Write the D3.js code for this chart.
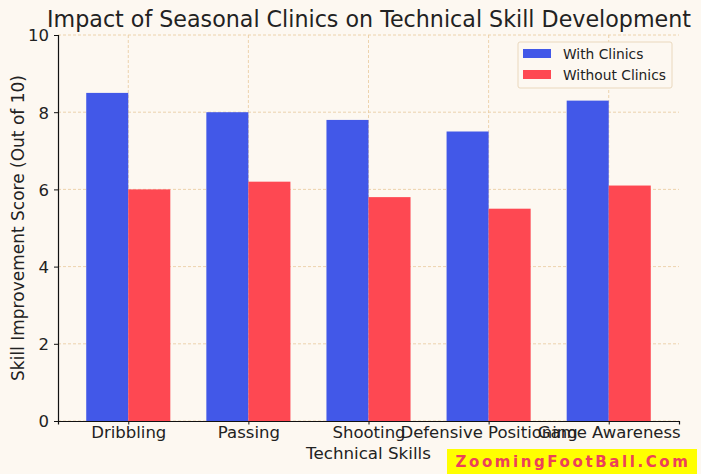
<!DOCTYPE html>
<html><head><meta charset="utf-8">
<script src="https://cdn.jsdelivr.net/npm/d3@7"></script>
<style>
body{margin:0;background:#fdf8f1;}
svg{display:block;font-family:"DejaVu Sans",sans-serif;}
</style></head>
<body><svg id="c" width="701" height="474"></svg>
<script>
const categories = ["Dribbling","Passing","Shooting","Defensive Positioning","Game Awareness"];
const withClinics = [8.5, 8.0, 7.8, 7.5, 8.3];
const withoutClinics = [6.0, 6.2, 5.8, 5.5, 6.1];
const yTicks = [0,2,4,6,8,10];
const seriesNames = ["With Clinics","Without Clinics"];
const colors = ["#4258e8","#fe4852"];

const svg = d3.select("#c");
const W=701,H=474;
svg.append("rect").attr("width",W).attr("height",H).attr("fill","#fdf8f1");
const L=58,R=679,T=35,B=421;
const bw=0.35;
const x = d3.scaleLinear().domain([-0.585, categories.length-1+0.585]).range([L,R]);
const y = d3.scaleLinear().domain([0,10]).range([B,T]);

const grid = svg.append("g");
grid.selectAll(".gy").data(yTicks).join("line")
  .attr("x1",L).attr("x2",R).attr("y1",d=>y(d)).attr("y2",d=>y(d))
  .attr("stroke","#e9c99c").attr("stroke-width",0.8).attr("stroke-dasharray","3,2");
grid.selectAll(".gx").data(categories).join("line")
  .attr("x1",(d,i)=>x(i)).attr("x2",(d,i)=>x(i)).attr("y1",T).attr("y2",B)
  .attr("stroke","#e9c99c").attr("stroke-width",0.8).attr("stroke-dasharray","3,2");

[withClinics, withoutClinics].forEach((vals,s)=>{
  svg.append("g").selectAll("rect").data(vals).join("rect")
    .attr("x",(d,i)=>x(i + (s===0?-bw:0)))
    .attr("width",x(bw)-x(0))
    .attr("y",d=>y(d)).attr("height",d=>y(0)-y(d))
    .attr("fill",colors[s]);
});

const yAxis = svg.append("g").attr("transform",`translate(${L},0)`)
  .call(d3.axisLeft(y).tickValues(yTicks).tickSize(4).tickPadding(5));
const xAxis = svg.append("g").attr("transform",`translate(0,${B})`)
  .call(d3.axisBottom(x).tickValues(d3.range(categories.length)).tickFormat(i=>categories[i]).tickSize(3.5).tickPadding(4));
[yAxis,xAxis].forEach(a=>{
  a.selectAll("text").attr("font-family","DejaVu Sans").attr("font-size",16.5).attr("fill","#222");
  a.select(".domain").attr("stroke","#111").attr("stroke-width",1.2);
  a.selectAll(".tick line").attr("stroke","#111");
});
xAxis.selectAll("text").attr("y",17).attr("dy",0);
yAxis.selectAll("text").attr("dy","0.36em");

svg.append("text").attr("x",(L+R)/2+0.5).attr("y",27).attr("text-anchor","middle")
  .attr("font-size",22.2).attr("fill","#222").text("Impact of Seasonal Clinics on Technical Skill Development");
svg.append("text").attr("x",(L+R)/2).attr("y",459).attr("text-anchor","middle")
  .attr("font-size",16.7).attr("fill","#222").text("Technical Skills");
svg.append("text").attr("transform",`translate(24,${(T+B)/2}) rotate(-90)`).attr("text-anchor","middle")
  .attr("font-size",17).attr("fill","#222").text("Skill Improvement Score (Out of 10)");

const lg = svg.append("g").attr("transform","translate(518,42)");
lg.append("rect").attr("width",154).attr("height",46).attr("rx",2)
  .attr("fill","#fdf8f1").attr("stroke","#ead8bd");
seriesNames.forEach((n,i)=>{
  lg.append("rect").attr("x",5).attr("y",7+i*21).attr("width",28).attr("height",9).attr("fill",colors[i]);
  lg.append("text").attr("x",45).attr("y",17+i*21).attr("font-size",13.8).attr("fill","#222").text(n);
});

const wm = svg.append("g");
wm.append("rect").attr("x",447).attr("y",449).attr("width",250).attr("height",25).attr("fill","#ffff00");
wm.append("text").attr("x",573).attr("y",467).attr("text-anchor","middle")
  .attr("font-family","DejaVu Sans").attr("font-weight","bold").attr("font-size",15)
  .attr("letter-spacing",2.6).attr("fill","#ec405a").text("ZoomingFootBall.Com");
</script></body></html>
